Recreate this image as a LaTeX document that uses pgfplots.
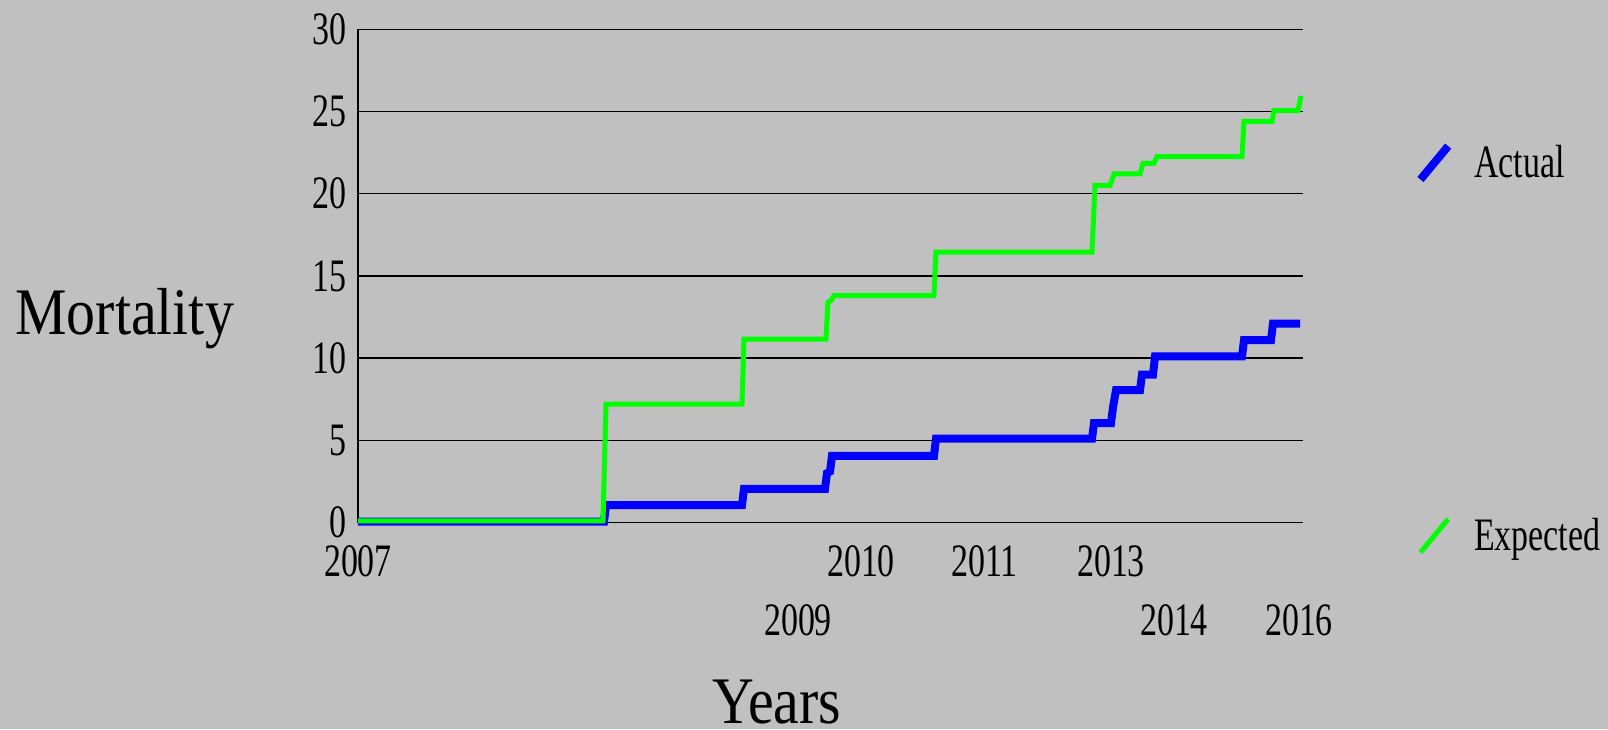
\documentclass[border=0pt]{standalone}
\usepackage{fontspec}
\usepackage{pgfplots}
\pgfplotsset{compat=1.18}
\setmainfont{Liberation Serif}
\newfontfamily\smallfont{Liberation Serif}[FakeStretch=0.73]
\newfontfamily\bigfont{Liberation Serif}[FakeStretch=0.87]
\definecolor{bggray}{RGB}{192,192,192}
\definecolor{actblue}{RGB}{0,0,255}
\definecolor{expgreen}{RGB}{0,255,0}
\begin{document}
\begin{tikzpicture}
\fill[bggray] (0,0) rectangle (804pt,364.5pt);
\begin{axis}[
  scale only axis, width=472.35pt, height=246.6pt,
  at={(179pt,103.25pt)}, anchor=south west,
  xmin=0, xmax=944.7, ymin=0, ymax=30,
  clip=false,
  ytick={0,5,...,30},
  xtick={0,440,503,626.5,753,816,941},
  xticklabels={2007,{\raisebox{-29.15pt}{2009}},2010,2011,2013,{\raisebox{-29.15pt}{2014}},{\raisebox{-29.15pt}{2016}}},
  ymajorgrids, grid style={black, line width=0.7pt},
  axis x line*=bottom, axis y line*=left,
  axis line style={-},
  x axis line style={draw=none},
  y axis line style={black, line width=0.7pt},
  major tick length=0pt,
  /pgf/number format/assume math mode=true,
  tick label style={font=\smallfont\fontsize{23.25}{28}\selectfont},
  yticklabel style={inner sep=0pt, anchor=east, xshift=-5.5pt},
  xticklabel style={inner sep=0pt, anchor=base, yshift=-27.1pt},
  ylabel={Mortality},
  ylabel style={rotate=-90, at={(axis description cs:-0.3631,0.3822)}, anchor=base west, inner sep=0pt, font=\bigfont\fontsize{33.25}{40}\selectfont},
  xlabel={Years},
  xlabel style={at={(axis description cs:0.4432,-0.4071)}, anchor=base, inner sep=0pt, font=\bigfont\fontsize{33.25}{40}\selectfont},
  legend cell align=left,
  legend style={draw=none, fill=none, inner sep=0pt, at={(axis description cs:1.1200,0.7721)}, anchor=north west,
    row sep=166.5pt, column sep=11pt,
    font=\smallfont\fontsize{23.25}{28}\selectfont,
    nodes={inner sep=0pt}},
  legend image code/.code={\draw[#1] (0pt,-8.35pt) -- (13.85pt,8.35pt);},
]
\addplot[actblue, line width=4pt] coordinates {
(0,0.05) (246,0.05) (248,1.05) (384,1.05) (386,2.05) (467,2.05) (469,3.0) (472,3.1) (474,4.05) (576,4.05) (578,5.1) (734,5.1) (736,6.05) (753,6.05) (755,7.0) (758,8.05) (782,8.05) (784,9.0) (795,9.0) (797,10.1) (884,10.1) (886,11.1) (913,11.1) (915,12.1) (942,12.1)
};
\addlegendentry{Actual}
\addplot[expgreen, line width=2.5pt] coordinates {
(0,0.1) (245,0.1) (248,7.2) (384,7.2) (386,11.15) (468,11.15) (470,13.4) (473,13.5) (476,13.8) (576,13.8) (578,16.45) (734,16.45) (737,20.5) (752,20.5) (756,21.2) (782,21.2) (785,21.85) (796,21.85) (799,22.25) (884,22.25) (886,24.4) (914,24.4) (916,25.05) (940,25.05) (943,25.95)
};
\addlegendentry{Expected}
\end{axis}
\end{tikzpicture}
\end{document}
